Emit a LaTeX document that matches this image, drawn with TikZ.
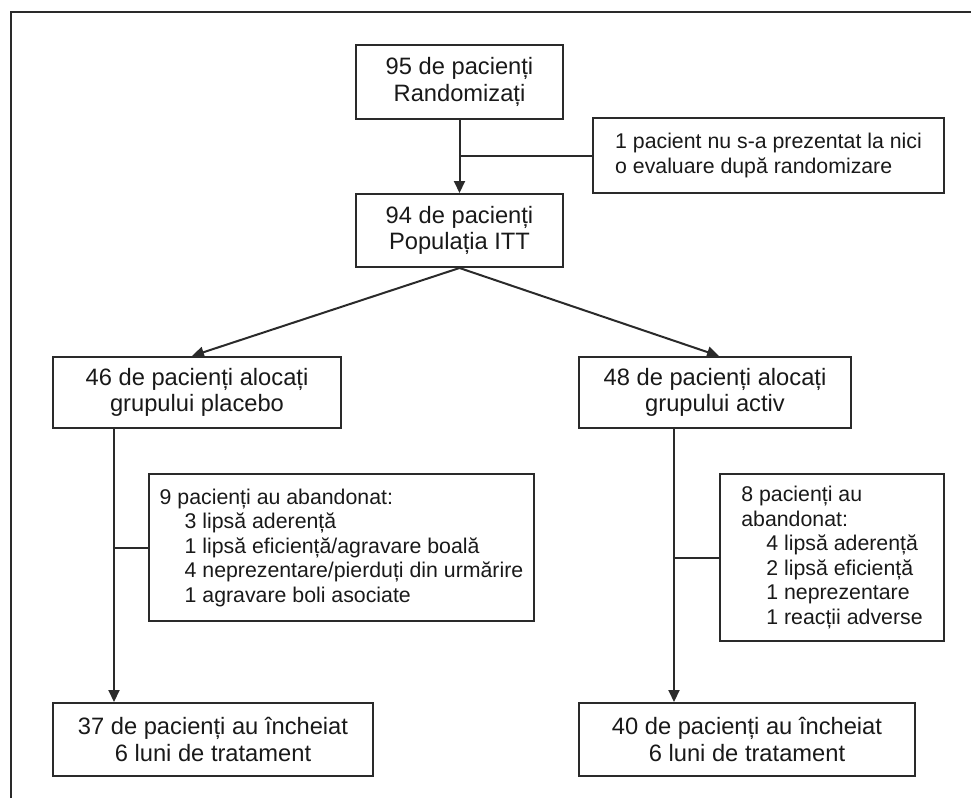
\documentclass[tikz,border=0pt]{standalone}
\usepackage{fontspec}
\setmainfont{Liberation Sans}
\usetikzlibrary{arrows.meta}
\definecolor{inkgray}{HTML}{2A2A2A}
\begin{document}
\begin{tikzpicture}[x=1pt,y=-1pt,
      main box/.style={draw=inkgray,line width=2pt,text=black!90,inner sep=0pt,align=center,
        font=\fontsize{23.7}{26.5}\selectfont},
      side box/.style={draw=inkgray,line width=2pt,text=black!90,inner sep=0pt,align=left,
        font=\fontsize{21.3}{24.5}\selectfont},
      flow line/.style={draw=inkgray,line width=2pt},
      flow arrow/.style={flow line,-{Triangle[length=12pt,width=11pt]}}]

      \useasboundingbox (0,0) rectangle (971,798);
      \draw[inkgray,line width=2pt] (11,798) -- (11,12) -- (971,12);

      \node[main box,minimum width=207pt,minimum height=74pt] (rand) at (459.5,82) {95 de pacienți\\Randomizați};
      \node[side box,minimum width=351pt,minimum height=75pt] (excl) at (768.5,155.5)
        {1 pacient nu s-a prezentat la nici\\o evaluare după randomizare};
      \node[main box,minimum width=207pt,minimum height=73pt] (itt) at (459.5,230.5) {94 de pacienți\\Populația ITT};

      \node[main box,minimum width=288pt,minimum height=71pt] (plac) at (197,392.5) {46 de pacienți alocați\\grupului placebo};
      \node[main box,minimum width=272pt,minimum height=71pt] (activ) at (715,392.5) {48 de pacienți alocați\\grupului activ};

      \node[side box,minimum width=385pt,minimum height=147pt] (dropP) at (341.5,547.5)
        {9 pacienți au abandonat:\\
         \hspace*{25pt}3 lipsă aderență\\
         \hspace*{25pt}1 lipsă eficiență/agravare boală\\
         \hspace*{25pt}4 neprezentare/pierduți din urmărire\\
         \hspace*{25pt}1 agravare boli asociate};
      \node[side box,minimum width=224pt,minimum height=167pt] (dropA) at (832,557.5)
        {8 pacienți au\\
         abandonat:\\
         \hspace*{25pt}4 lipsă aderență\\
         \hspace*{25pt}2 lipsă eficiență\\
         \hspace*{25pt}1 neprezentare\\
         \hspace*{25pt}1 reacții adverse};

      \node[main box,minimum width=320pt,minimum height=73pt] (endP) at (213,739.5) {37 de pacienți au încheiat\\6 luni de tratament};
      \node[main box,minimum width=336pt,minimum height=73pt] (endA) at (747,739.5) {40 de pacienți au încheiat\\6 luni de tratament};

      \draw[flow arrow] (rand) -- (itt);
      \draw[flow line] (excl.west) -- (excl.west -| rand.south);

      \draw[flow arrow] (itt.south) -- ([xshift=140pt]plac.north west);
      \draw[flow arrow] (itt.south) -- ([xshift=141pt]activ.north west);

      \coordinate (pdrop) at ([xshift=62pt]plac.south west);
      \coordinate (adrop) at ([xshift=96pt]activ.south west);
      \draw[flow arrow] (pdrop) -- (pdrop |- endP.north);
      \draw[flow line] (dropP.west) -- (dropP.west -| pdrop);
      \draw[flow arrow] (adrop) -- (adrop |- endA.north);
      \draw[flow line] (dropA.west) -- (dropA.west -| adrop);
\end{tikzpicture}
\end{document}
